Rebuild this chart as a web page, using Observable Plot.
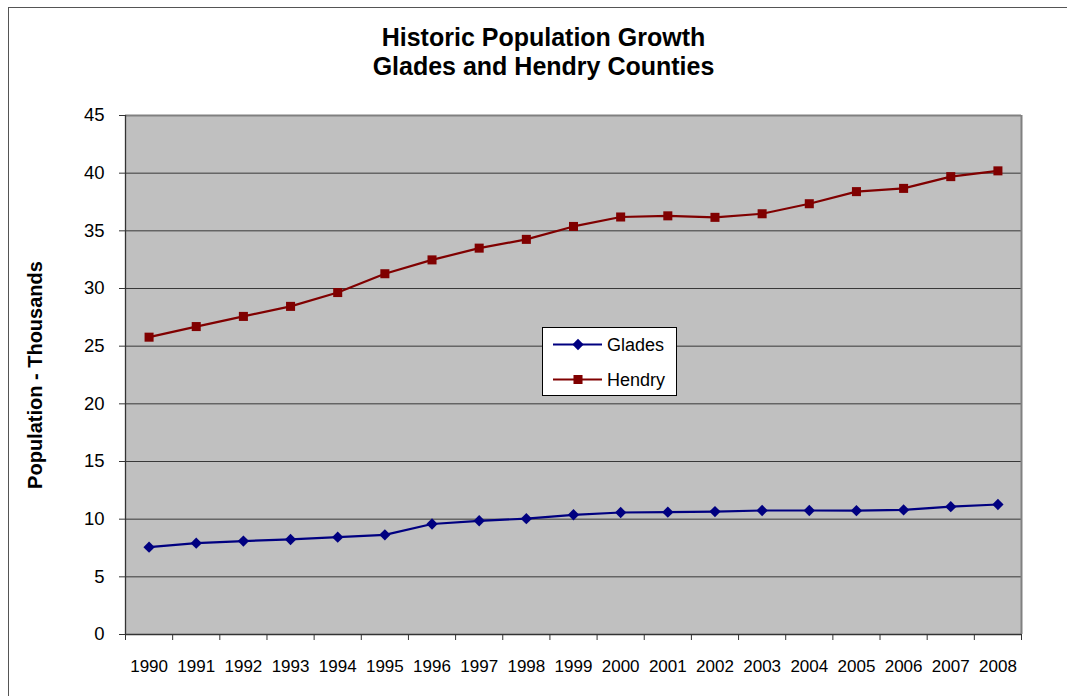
<!DOCTYPE html>
<html>
<head>
<meta charset="utf-8">
<script src="https://cdn.jsdelivr.net/npm/d3@7"></script>
<script src="https://cdn.jsdelivr.net/npm/@observablehq/plot@0.6"></script>
<style>
  html, body { margin: 0; padding: 0; background: #fff; }
  body { font-family: "Liberation Sans", Arial, sans-serif; }
  #wrap { position: relative; width: 1067px; height: 696px; overflow: hidden; }
  #border { position: absolute; left: 8px; top: 7px; width: 1200px; height: 900px; border: 1px solid #555; box-sizing: border-box; }
  #chart { position: absolute; left: 0; top: 0; }
</style>
</head>
<body>
<div id="wrap">
  <div id="border"></div>
  <div id="chart"></div>
</div>
<script>
// ---- data ----
const years = [1990, 1991, 1992, 1993, 1994, 1995, 1996, 1997, 1998, 1999,
               2000, 2001, 2002, 2003, 2004, 2005, 2006, 2007, 2008];
const glades = [7.57, 7.92, 8.10, 8.24, 8.44, 8.64, 9.58, 9.86, 10.04, 10.38,
                10.58, 10.61, 10.66, 10.75, 10.75, 10.74, 10.80, 11.08, 11.27];
const hendry = [25.78, 26.70, 27.58, 28.45, 29.65, 31.28, 32.48, 33.50, 34.26, 35.38,
                36.20, 36.30, 36.17, 36.48, 37.35, 38.40, 38.68, 39.70, 40.20];
const seriesNames = ["Glades", "Hendry"];
const seriesColors = ["#000080", "#800000"];
const seriesSymbols = ["diamond2", "square"];
const yTicks = [0, 5, 10, 15, 20, 25, 30, 35, 40, 45];
const titleLines = ["Historic Population Growth", "Glades and Hendry Counties"];
const yLabel = "Population - Thousands";

// ---- build table ----
const rows = [];
years.forEach((yr, i) => rows.push({ year: yr, value: glades[i], series: "Glades" }));
years.forEach((yr, i) => rows.push({ year: yr, value: hendry[i], series: "Hendry" }));
const boundaries = years.map(y => y - 0.5).concat([years[years.length - 1] + 0.5]);
const xDomain = [boundaries[0], boundaries[boundaries.length - 1]];
const yMax = yTicks[yTicks.length - 1];

const font = "'Liberation Sans', Arial, sans-serif";

const chart = Plot.plot({
  width: 1067,
  height: 696,
  marginLeft: 125,
  marginRight: 46,
  marginTop: 115,
  marginBottom: 62,
  style: { fontFamily: font, background: "transparent", color: "#000", overflow: "visible" },
  x: { type: "linear", domain: xDomain, axis: null },
  y: { domain: [0, yMax], axis: null },
  color: { domain: seriesNames, range: seriesColors },
  symbol: { domain: seriesNames, range: seriesSymbols },
  marks: [
    Plot.frame({ fill: "#c0c0c0", stroke: "none" }),
    Plot.ruleY(yTicks.filter(t => t > 0 && t < yMax), { stroke: "#383838", strokeWidth: 1 }),
    Plot.ruleY([yMax], { stroke: "#808080", strokeWidth: 2 }),
    Plot.ruleX([xDomain[1]], { stroke: "#808080", strokeWidth: 2 }),
    Plot.ruleX([xDomain[0]], { stroke: "#333", strokeWidth: 1.3 }),
    Plot.ruleY([0], { stroke: "#333", strokeWidth: 1.3 }),
    Plot.axisY(yTicks, { tickSize: 6, tickPadding: 15, fontSize: 18.5, label: null, stroke: "#333" }),
    Plot.axisX(boundaries, { tickSize: 6, fill: "none", label: null, stroke: "#333" }),
    Plot.axisX(years, { tickSize: 0, tickPadding: 25, fontSize: 17, label: null, tickFormat: d => String(d) }),
    Plot.line(rows, { x: "year", y: "value", z: "series", stroke: "series", strokeWidth: 2.2 }),
    Plot.dot(rows, { x: "year", y: "value", fill: "series", symbol: "series", r: 5.1, stroke: "none" }),
    Plot.text([titleLines[0]], {
      text: d => d, frameAnchor: "top", textAnchor: "middle", lineAnchor: "bottom",
      dx: -30, dy: -70, fontSize: 25, fontWeight: "bold", fill: "#000"
    }),
    Plot.text([titleLines[1]], {
      text: d => d, frameAnchor: "top", textAnchor: "middle", lineAnchor: "bottom",
      dx: -30, dy: -41, fontSize: 25, fontWeight: "bold", fill: "#000"
    }),
    Plot.text([yLabel], {
      text: d => d, frameAnchor: "left", textAnchor: "middle", rotate: -90, dx: -90,
      fontSize: 20, fontWeight: "bold", fill: "#000"
    })
  ]
});
document.getElementById("chart").appendChild(chart);

// ---- legend (drawn inside the plot svg) ----
const svg = d3.select(chart);
const lg = svg.append("g").attr("font-family", font).attr("text-anchor", "start");
lg.append("rect").attr("x", 542.5).attr("y", 327.5).attr("width", 134).attr("height", 68)
  .attr("fill", "#fff").attr("stroke", "#000").attr("stroke-width", 1);
const symMap = { diamond2: d3.symbolDiamond2, square: d3.symbolSquare };
seriesNames.forEach((name, i) => {
  const cy = 344.5 + i * 35;
  lg.append("line").attr("x1", 553).attr("x2", 602).attr("y1", cy).attr("y2", cy)
    .attr("stroke", seriesColors[i]).attr("stroke-width", 2.2);
  lg.append("path").attr("transform", `translate(578,${cy})`)
    .attr("d", d3.symbol(symMap[seriesSymbols[i]], Math.PI * 5.1 * 5.1)())
    .attr("fill", seriesColors[i]);
  lg.append("text").attr("x", 607).attr("y", cy).attr("dy", "0.35em")
    .attr("text-anchor", "start")
    .attr("font-size", 18).attr("fill", "#000").text(name);
});
</script>
</body>
</html>
